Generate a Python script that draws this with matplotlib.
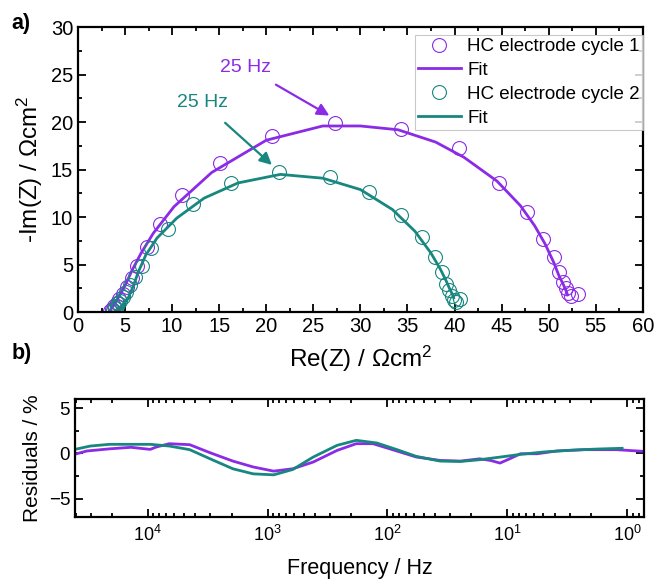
import numpy as np
import matplotlib
matplotlib.use('Agg')
import matplotlib.pyplot as plt
from matplotlib.ticker import MultipleLocator, LogLocator, NullFormatter

plt.rcParams['font.family'] = ['Liberation Sans', 'DejaVu Sans']
plt.rcParams['mathtext.default'] = 'regular'

purple = '#8B2BE6'
teal = '#17877F'

# Nyquist data, cycle 1
re1 = [3.4, 3.6, 3.8, 4.1, 4.4, 4.8, 5.2, 5.7, 6.3, 7.3, 8.7, 11.0, 15.1, 20.6, 27.3,
       34.3, 40.5, 44.7, 47.7, 49.4, 50.6, 51.1, 51.5, 51.8, 52.0, 52.4, 53.1]
im1 = [0.1, 0.3, 0.6, 1.0, 1.4, 1.9, 2.6, 3.6, 4.9, 6.9, 9.3, 12.3, 15.7, 18.5, 19.9,
       19.3, 17.3, 13.6, 10.5, 7.7, 5.8, 4.2, 3.2, 2.5, 2.0, 1.7, 1.9]
fit_re1 = [3.3, 4.1, 5.0, 5.8, 6.7, 8.0, 10.2, 14.2, 20.0, 26.0, 30.0, 34.0, 38.0, 41.0,
           44.5, 47.0, 48.5, 49.6, 50.5, 51.1, 51.6, 51.9, 52.0]
fit_im1 = [0.0, 1.2, 2.8, 4.5, 6.2, 8.3, 11.1, 14.7, 18.1, 19.6, 19.6, 19.2, 17.9, 16.3,
           13.8, 11.2, 9.1, 7.2, 5.3, 3.8, 2.8, 2.1, 1.8]

# Nyquist data, cycle 2
re2 = [3.75, 3.9, 4.1, 4.3, 4.5, 4.8, 5.1, 5.5, 6.05, 6.8, 7.8, 9.6, 12.2, 16.3, 21.3,
       26.8, 30.9, 34.3, 36.5, 37.9, 38.7, 39.1, 39.4, 39.7, 39.9, 40.2, 40.6]
im2 = [0.2, 0.4, 0.6, 0.9, 1.2, 1.6, 2.1, 2.8, 3.7, 4.9, 6.7, 8.8, 11.4, 13.6, 14.7,
       14.2, 12.6, 10.2, 7.9, 5.8, 4.2, 3.0, 2.3, 1.7, 1.3, 1.1, 1.4]
fit_re2 = [3.8, 4.6, 5.3, 5.9, 6.4, 7.2, 8.4, 10.5, 13.4, 17.0, 21.5, 26.0, 30.0, 33.4,
           35.8, 37.5, 38.5, 39.1, 39.5, 39.8, 39.9]
fit_im2 = [0.0, 0.6, 1.4, 2.8, 4.2, 6.0, 7.8, 9.9, 12.0, 13.6, 14.5, 14.1, 12.9, 10.8,
           8.5, 6.2, 4.5, 3.3, 2.4, 1.8, 1.5]

# Residuals
f1 = [40700, 32400, 20900, 13800, 9550, 8510, 6610, 4470, 3020, 1950, 1320, 891, 617,
      417, 263, 182, 132, 95.5, 57.5, 36.3, 24.5, 17.0, 13.8, 11.5, 9.55, 7.76, 5.62,
      3.89, 2.29, 1.23, 0.72]
r1 = [-0.1, 0.26, 0.5, 0.67, 0.44, 0.7, 1.07, 0.96, 0.07, -0.85, -1.5, -1.96, -1.7,
      -0.96, 0.33, 1.07, 1.07, 0.5, -0.4, -0.78, -0.85, -0.6, -0.78, -1.07, -0.6, -0.04,
      -0.04, 0.26, 0.41, 0.41, 0.22]
f2 = [40700, 30200, 20900, 9550, 6610, 4470, 3020, 1950, 1320, 891, 617, 417, 263, 182,
      123, 83.2, 57.5, 36.3, 24.5, 17.0, 11.5, 7.76, 5.01, 3.16, 1.78, 1.10]
r2 = [0.44, 0.81, 1.0, 1.0, 0.81, 0.41, -0.6, -1.7, -2.26, -2.37, -1.78, -0.41, 0.89,
      1.44, 1.15, 0.41, -0.33, -0.85, -0.89, -0.7, -0.41, -0.11, 0.15, 0.33, 0.48, 0.56]

fig = plt.figure(figsize=(6.58, 5.8), dpi=100)
ax1 = fig.add_axes([0.1185, 0.462, 0.8585, 0.491])
ax2 = fig.add_axes([0.114, 0.109, 0.865, 0.203])

# a) Nyquist
ax1.plot(re1, im1, 'o', mfc='none', mec=purple, ms=10, mew=0.8, label='HC electrode cycle 1')
ax1.plot(fit_re1, fit_im1, '-', color=purple, lw=2, label='Fit')
ax1.plot(re2, im2, 'o', mfc='none', mec=teal, ms=10, mew=0.8, label='HC electrode cycle 2')
ax1.plot(fit_re2, fit_im2, '-', color=teal, lw=2, label='Fit')

ax1.set_xlim(0, 60)
ax1.set_ylim(0, 30)
ax1.xaxis.set_major_locator(MultipleLocator(5))
ax1.xaxis.set_minor_locator(MultipleLocator(2.5))
ax1.yaxis.set_major_locator(MultipleLocator(5))
ax1.yaxis.set_minor_locator(MultipleLocator(2.5))
ax1.set_xlabel('Re(Z) / Ωcm$^2$', fontsize=17.5, labelpad=6)
ax1.set_ylabel('-Im(Z) / Ωcm$^2$', fontsize=17.5, labelpad=4)

ax1.annotate('25 Hz', xy=(26.7, 20.7), xytext=(17.8, 25.8), color=purple, fontsize=14,
             ha='center', va='center',
             arrowprops=dict(arrowstyle='-|>', color=purple, lw=1.6, mutation_scale=18,
                             shrinkA=9, shrinkB=0))
ax1.annotate('25 Hz', xy=(20.6, 15.5), xytext=(13.2, 22.1), color=teal, fontsize=14,
             ha='center', va='center',
             arrowprops=dict(arrowstyle='-|>', color=teal, lw=1.6, mutation_scale=18,
                             shrinkA=10, shrinkB=0))

leg = ax1.legend(loc='upper right', fontsize=13.5, frameon=True, fancybox=False,
                 borderpad=0.15, labelspacing=0.36, handlelength=2.3, handletextpad=0.35,
                 borderaxespad=0, bbox_to_anchor=(1.0, 0.972))
leg.get_frame().set_edgecolor('#bbbbbb')
leg.get_frame().set_linewidth(0.8)

# b) residuals
ax2.plot(f1, r1, '-', color=purple, lw=2)
ax2.plot(f2, r2, '-', color=teal, lw=2)
ax2.set_xscale('log')
ax2.set_xlim(40500, 0.72)
ax2.set_ylim(-7, 6)
ax2.yaxis.set_major_locator(MultipleLocator(5))
ax2.yaxis.set_minor_locator(MultipleLocator(2.5))
ax2.xaxis.set_major_locator(LogLocator(base=10))
ax2.xaxis.set_minor_locator(LogLocator(base=10, subs=np.arange(2, 10)))
ax2.xaxis.set_minor_formatter(NullFormatter())
ax2.set_xlabel('Frequency / Hz', fontsize=15.5, labelpad=9)
ax2.set_ylabel('Residuals / %', fontsize=15, labelpad=5)

for ax in (ax1, ax2):
    for s in ax.spines.values():
        s.set_linewidth(1.6)
    ax.tick_params(which='both', direction='in', top=True, right=True, width=1.3)
    ax.tick_params(which='major', length=6)
    ax.tick_params(which='minor', length=3)
ax1.tick_params(labelsize=14.5)
ax2.tick_params(axis='y', labelsize=13.5)
ax2.tick_params(axis='x', labelsize=13, pad=6)

fig.text(0.018, 0.960, 'a)', fontsize=15.5, fontweight='bold', ha='left', va='center')
fig.text(0.018, 0.391, 'b)', fontsize=15.5, fontweight='bold', ha='left', va='center')

fig.savefig('out.png', dpi=100)
